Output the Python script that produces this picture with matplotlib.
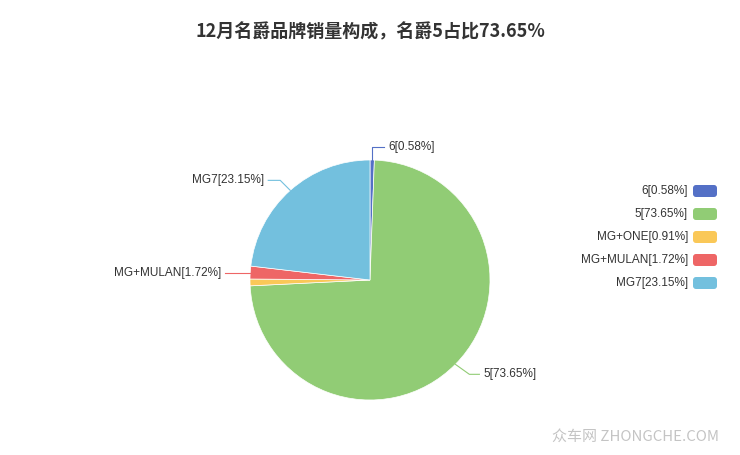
import matplotlib.pyplot as plt
from matplotlib.patches import FancyBboxPatch
import numpy as np

plt.rcParams['font.family'] = ['Liberation Sans', 'Noto Sans CJK SC', 'DejaVu Sans']

names = ['6', '5', 'MG+ONE', 'MG+MULAN', 'MG7']
shares = [0.58, 73.65, 0.91, 1.72, 23.15]
colors = ['#5470c6', '#91cc75', '#fac858', '#ee6666', '#73c0de']
title = '12月名爵品牌销量构成，名爵5占比73.65%'

W, H = 740, 455
fig = plt.figure(figsize=(W / 100, H / 100), dpi=100)
ax = fig.add_axes([0, 0, 1, 1])

cx, cy, r = 370, H - 280, 120
wedges, _ = ax.pie(shares, colors=colors, startangle=90, counterclock=False,
                   center=(cx, cy), radius=r, frame=True,
                   wedgeprops=dict(edgecolor='white', linewidth=0.5))
ax.set_xlim(0, W)
ax.set_ylim(0, H)
ax.axis('off')

# leader lines: (elbow dx, dy from edge point, horizontal length) per label
leaders = {0: (0, 13, 12), 1: (14, -10, 10), 3: (-5, 0, -20), 4: (-10, 10, -12)}
for i, (ex, ey, hl) in leaders.items():
    w = wedges[i]
    mid = np.deg2rad((w.theta1 + w.theta2) / 2)
    px, py = cx + r * np.cos(mid), cy + r * np.sin(mid)
    bx, by = px + ex, py + ey
    tx = bx + hl
    ax.plot([px, bx, tx], [py, by, by], color=colors[i], lw=0.8)
    label = f'{names[i]}[{shares[i]:.2f}%]'
    ha = 'left' if hl > 0 else 'right'
    ax.text(tx + (4 if hl > 0 else -4), by, label, ha=ha, va='center',
            fontsize=8.5, color='#333333')

# legend
for k in range(len(names)):
    y = H - (191 + 23 * k)
    ax.add_patch(FancyBboxPatch((693, y - 6), 24, 12,
                                boxstyle='round,pad=0,rounding_size=3',
                                fc=colors[k], ec='none'))
    ax.text(688, y, f'{names[k]}[{shares[k]:.2f}%]', ha='right', va='center',
            fontsize=8.5, color='#333333')

ax.text(370, H - 32, title, ha='center', va='center', fontsize=13,
        fontweight='bold', color='#333333',
        family=['Noto Sans CJK SC', 'DejaVu Sans'])

ax.text(719, H - 437, '众车网 ZHONGCHE.COM', ha='right', va='center',
        fontsize=10.8, color='#c4c4c4', family=['Noto Sans CJK SC', 'DejaVu Sans'])

fig.savefig('out.png', dpi=100)
